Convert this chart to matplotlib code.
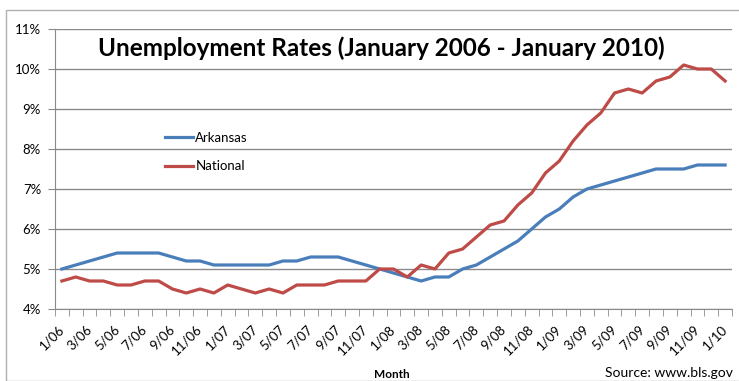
import matplotlib
matplotlib.use("Agg")
import matplotlib.pyplot as plt
from matplotlib.patches import Rectangle

# monthly rates, Jan 2006 .. Jan 2010
arkansas = [5.0, 5.1, 5.2, 5.3, 5.4, 5.4, 5.4, 5.4, 5.3, 5.2, 5.2, 5.1,
            5.1, 5.1, 5.1, 5.1, 5.2, 5.2, 5.3, 5.3, 5.3, 5.2, 5.1, 5.0,
            4.9, 4.8, 4.7, 4.8, 4.8, 5.0, 5.1, 5.3, 5.5, 5.7, 6.0, 6.3,
            6.5, 6.8, 7.0, 7.1, 7.2, 7.3, 7.4, 7.5, 7.5, 7.5, 7.6, 7.6,
            7.6]
national = [4.7, 4.8, 4.7, 4.7, 4.6, 4.6, 4.7, 4.7, 4.5, 4.4, 4.5, 4.4,
            4.6, 4.5, 4.4, 4.5, 4.4, 4.6, 4.6, 4.6, 4.7, 4.7, 4.7, 5.0,
            5.0, 4.8, 5.1, 5.0, 5.4, 5.5, 5.8, 6.1, 6.2, 6.6, 6.9, 7.4,
            7.7, 8.2, 8.6, 8.9, 9.4, 9.5, 9.4, 9.7, 9.8, 10.1, 10.0, 10.0,
            9.7]
months = []
for yr in ["06", "07", "08", "09", "10"]:
    for m in range(1, 13):
        months.append(f"{m}/{yr}")
months = months[:49]
y_ticks = [4, 5, 6, 7, 8, 9, 10, 11]

plt.rcParams['font.family'] = ['Lato', 'DejaVu Sans']

W, H = 739, 381
fig = plt.figure(figsize=(W / 100, H / 100), dpi=100)
fig.patches.append(Rectangle((6 / W, 0), 1, 1 - 10 / H, transform=fig.transFigure,
                             fill=False, edgecolor="#b0b0b0", linewidth=1))

ax = fig.add_axes([55 / W, 1 - 309 / H, 677 / W, 280 / H])
x = list(range(len(months)))
ax.plot(x, arkansas, color="#4A7EBB", linewidth=2.3, label="Arkansas", zorder=3)
ax.plot(x, national, color="#BE4B48", linewidth=2.3, label="National", zorder=3)

ax.set_xlim(-0.5, len(months) - 0.5)
ax.set_ylim(4, 11)
ax.set_yticks(y_ticks)
ax.set_yticklabels([f"{v}%" for v in y_ticks])
ax.grid(axis="y", color="#8a8a8a", linewidth=1)
ax.set_axisbelow(True)

ax.set_xticks(x[::2])
ax.set_xticklabels(months[::2], rotation=45, ha="right", va="center",
                   rotation_mode="anchor")
ax.set_xticks([i - 0.5 for i in range(len(months) + 1)], minor=True)
ax.tick_params(axis="x", which="major", length=0, pad=13, labelsize=9.5)
ax.tick_params(axis="x", which="minor", length=5, color="#8a8a8a", direction="out")
ax.tick_params(axis="y", length=5, color="#8a8a8a", pad=5, labelsize=9.5)

for s in ["top", "right"]:
    ax.spines[s].set_visible(False)
for s in ["left", "bottom"]:
    ax.spines[s].set_color("#8a8a8a")

ax.legend(loc="upper left", bbox_to_anchor=(0.145, 0.675), frameon=False,
          fontsize=9.5, handlelength=2.1, handletextpad=0.2, labelspacing=1.25)

fig.text(381 / W, 1 - 48 / H, "Unemployment Rates (January 2006 - January 2010)",
         ha="center", va="center", fontsize=17.5, fontweight="bold")
fig.text(392 / W, 1 - 375 / H, "Month", ha="center", va="center",
         fontsize=8.5, fontweight="bold")
fig.text(733 / W, 1 - 373 / H, "Source: www.bls.gov", ha="right", va="center",
         fontsize=10)

fig.savefig("out.png", dpi=100)
